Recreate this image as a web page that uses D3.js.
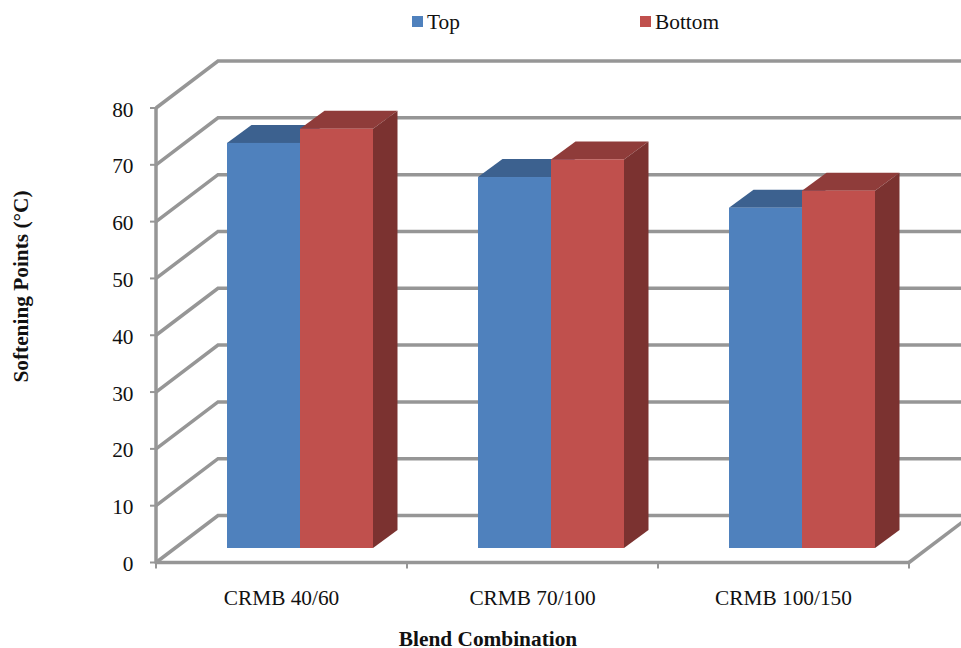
<!DOCTYPE html>
<html>
<head>
<meta charset="utf-8">
<script src="https://cdn.jsdelivr.net/npm/d3@7"></script>
<style>
html,body{margin:0;padding:0;background:#fff;}
svg{display:block;}
text{font-family:"Liberation Serif","Times New Roman",serif;fill:#111;}
</style>
</head>
<body>
<svg id="chart" width="961" height="648"></svg>
<script>
// Softening points of crumb rubber modified binder blends
const categories = ["CRMB 40/60", "CRMB 70/100", "CRMB 100/150"];
const seriesNames = ["Top", "Bottom"];
const topValues = [71.3, 65.3, 59.9];
const bottomValues = [73.8, 68.4, 62.9];
const yTicks = [0, 10, 20, 30, 40, 50, 60, 70, 80];
const seriesColors = {
  Top: {front: "#4f81bd", roof: "#3c618f"},
  Bottom: {front: "#c0504d", roof: "#8f3c3a", side: "#7b3230"}
};

const svg = d3.select("#chart");
const gridColor = "#969696";
const labelSize = 21.33;

// Oblique projection: the back wall is shifted right and up from the front plane
const wallDx = 62, wallDy = -47;
const barDepthDx = 24.5, barDepthDy = -18;
const barOffsetDx = 18.5, barOffsetDy = -14.5;

const x = d3.scaleBand().domain(categories).range([156, 909]);
const y = d3.scaleLinear().domain([0, 80]).range([562.5, 108]);
const series = d3.scaleBand().domain(seriesNames).range([0, 146]);

// Back wall gridlines and their oblique returns along the side wall
const grid = svg.append("g").attr("fill", "none")
  .attr("stroke", gridColor).attr("stroke-width", 3.5);
grid.selectAll("path.wall").data(yTicks).join("path")
  .attr("class", "wall")
  .attr("d", d => d3.line()([
    [x.range()[0], y(d)],
    [x.range()[0] + wallDx, y(d) + wallDy],
    [961, y(d) + wallDy]
  ]));

// Floor edge on the right-hand side
grid.append("line")
  .attr("x1", x.range()[1]).attr("y1", y(0))
  .attr("x2", x.range()[1] + wallDx).attr("y2", y(0) + wallDy);

// Vertical and horizontal axes with outward ticks
const axes = svg.append("g").attr("stroke", gridColor);
axes.append("line").attr("stroke-width", 3.5)
  .attr("x1", 156).attr("x2", 156).attr("y1", y(80) - 1).attr("y2", y(0) + 1);
axes.append("line").attr("stroke-width", 3.5)
  .attr("x1", 155).attr("x2", 909).attr("y1", y(0)).attr("y2", y(0));
axes.selectAll("line.ytick").data(yTicks).join("line")
  .attr("class", "ytick").attr("stroke-width", 2)
  .attr("x1", 150).attr("x2", 156)
  .attr("y1", d => y(d)).attr("y2", d => y(d));
axes.selectAll("line.xtick").data(d3.range(categories.length + 1)).join("line")
  .attr("class", "xtick").attr("stroke-width", 2)
  .attr("x1", i => 156 + i * x.bandwidth()).attr("x2", i => 156 + i * x.bandwidth())
  .attr("y1", y(0)).attr("y2", y(0) + 6);

// Flat-shaded 3D columns, left series first so the right one overlaps it
const rows = categories.flatMap((c, i) => [
  {category: c, name: "Top", value: topValues[i]},
  {category: c, name: "Bottom", value: bottomValues[i]}
]);
const barX = d => x(d.category) + (x.bandwidth() - series.range()[1]) / 2 + series(d.name) + barOffsetDx;
const barTop = d => y(d.value) + barOffsetDy;
const barBase = y(0) + barOffsetDy;
const bw = series.bandwidth();

const bars = svg.append("g").selectAll("g").data(rows).join("g");
bars.append("path")
  .attr("fill", d => seriesColors[d.name].roof)
  .attr("d", d => d3.line()([
    [barX(d), barTop(d)],
    [barX(d) + barDepthDx, barTop(d) + barDepthDy],
    [barX(d) + bw + barDepthDx, barTop(d) + barDepthDy],
    [barX(d) + bw, barTop(d)]
  ]) + "Z");
bars.filter(d => d.name === "Bottom").append("path")
  .attr("fill", d => seriesColors[d.name].side)
  .attr("d", d => d3.line()([
    [barX(d) + bw, barTop(d)],
    [barX(d) + bw + barDepthDx, barTop(d) + barDepthDy],
    [barX(d) + bw + barDepthDx, barBase + barDepthDy],
    [barX(d) + bw, barBase]
  ]) + "Z");
bars.append("rect")
  .attr("fill", d => seriesColors[d.name].front)
  .attr("x", barX).attr("y", barTop)
  .attr("width", bw).attr("height", d => barBase - barTop(d));

// Tick labels
svg.append("g").selectAll("text").data(yTicks).join("text")
  .attr("x", 133.5).attr("y", d => y(d) + 8.5)
  .attr("text-anchor", "end").attr("font-size", labelSize)
  .text(d => d);
svg.append("g").selectAll("text").data(categories).join("text")
  .attr("x", d => x(d) + x.bandwidth() / 2)
  .attr("y", 605)
  .attr("text-anchor", "middle").attr("font-size", labelSize)
  .text(d => d);

// Axis titles
svg.append("text")
  .attr("x", 488).attr("y", 646)
  .attr("text-anchor", "middle").attr("font-size", labelSize).attr("font-weight", "bold")
  .text("Blend Combination");
svg.append("text")
  .attr("transform", "translate(27.5,286.5) rotate(-90)")
  .attr("text-anchor", "middle").attr("font-size", labelSize).attr("font-weight", "bold")
  .text("Softening Points (°C)");

// Legend
const legend = svg.append("g").selectAll("g").data(seriesNames).join("g")
  .attr("transform", (d, i) => `translate(${[412, 640][i]},16)`);
legend.append("rect").attr("width", 11).attr("height", 11)
  .attr("fill", d => seriesColors[d].front);
legend.append("text").attr("x", 15).attr("y", 13)
  .attr("font-size", labelSize).text(d => d);
</script>
</body>
</html>
